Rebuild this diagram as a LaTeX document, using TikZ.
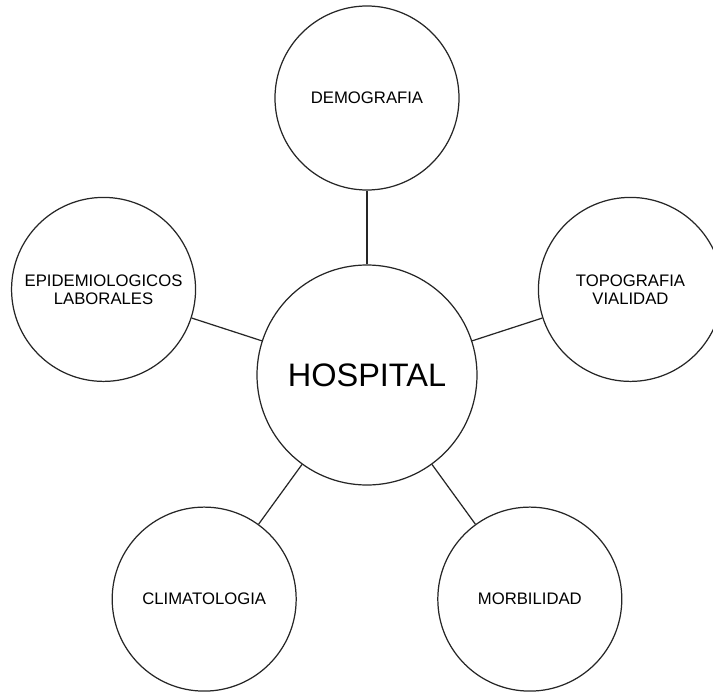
\documentclass[tikz,border=0pt]{standalone}
\usepackage{fontspec}
\setmainfont{Liberation Sans}

\begin{document}
\begin{tikzpicture}[
	tema/.style={circle, draw=black!85, line width=0.7pt, minimum size=3.68cm, inner sep=0pt, align=center, font=\fontsize{9.5}{10.3}\selectfont},
	centro/.style={circle, draw=black!85, line width=0.7pt, minimum size=4.4cm, inner sep=0pt, font=\fontsize{18.5}{20}\selectfont},
	enlace/.style={draw=black!85, line width=0.7pt}
]
	\useasboundingbox (-7.34,-6.32) rectangle (6.92,7.5);

	% Central node
	\node[centro] (hospital) at (0,0) {HOSPITAL};

	% Surrounding topics (pentagon)
	\node[tema] (demografia)      at ( 90:5.54) {DEMOGRAFIA};
	\node[tema] (epidemiologicos) at (162:5.54) {EPIDEMIOLOGICOS\\LABORALES};
	\node[tema] (climatologia)    at (234:5.54) {CLIMATOLOGIA};
	\node[tema] (morbilidad)      at (306:5.54) {MORBILIDAD};
	\node[tema] (topografia)      at ( 18:5.54) {TOPOGRAFIA\\VIALIDAD};

	% Links to the centre
	\foreach \n in {demografia,epidemiologicos,climatologia,morbilidad,topografia} {
		\draw[enlace] (hospital) -- (\n);
	}
\end{tikzpicture}
\end{document}
